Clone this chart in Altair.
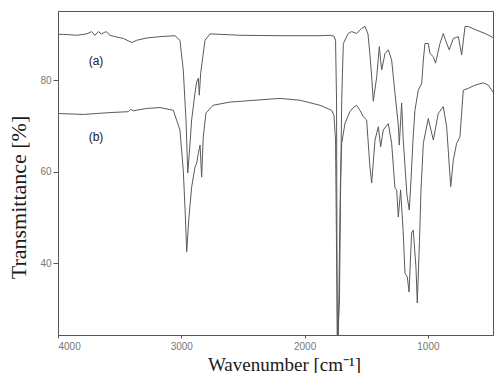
import altair as alt
import pandas as pd

# Spectrum (a): wavenumber [cm^-1] and transmittance [%]
wn_a = [4000, 3957, 3848, 3767, 3727, 3700, 3673, 3646, 3611, 3578, 3538, 3470, 3402, 3362,
        3281, 3173, 3051, 3011, 2984, 2962, 2951, 2948, 2935, 2916, 2889, 2875, 2862, 2854,
        2843, 2826, 2808, 2767, 2524, 2200, 1875, 1794, 1762, 1749, 1741, 1735, 1717, 1709,
        1699, 1686, 1646, 1618, 1578, 1537, 1510, 1486, 1470, 1456, 1443, 1415, 1394, 1375,
        1348, 1321, 1294, 1267, 1240, 1232, 1213, 1200, 1186, 1170, 1151, 1137, 1121, 1105,
        1078, 1050, 1037, 1024, 997, 983, 956, 938, 902, 875, 862, 827, 794, 753, 726, 699,
        672, 604, 537, 472]
t_a = [90.0, 90.0, 89.8, 90.1, 90.6, 89.8, 90.6, 90.1, 90.6, 89.8, 89.5, 89.1, 88.2, 88.7,
       89.2, 89.5, 89.7, 88.7, 82.2, 71.3, 62.5, 59.7, 64.0, 71.3, 77.2, 79.6, 80.4, 76.7,
       81.5, 85.0, 88.7, 90.1, 89.8, 89.7, 89.7, 89.8, 89.6, 88.7, 75.6, 22.1, 31.9, 53.8,
       75.6, 88.0, 90.2, 90.6, 90.2, 91.3, 91.7, 90.1, 85.5, 80.7, 75.4, 80.7, 87.3, 82.2,
       85.8, 86.6, 84.4, 77.1, 70.2, 65.8, 75.0, 66.9, 61.4, 54.9, 51.6, 58.1, 66.9, 73.4,
       77.8, 79.3, 84.4, 88.0, 88.0, 85.8, 85.1, 83.7, 88.0, 90.2, 89.1, 86.6, 89.1, 89.5,
       85.5, 91.7, 91.7, 90.9, 90.2, 89.3]

# Spectrum (b)
wn_b = [4000, 3795, 3578, 3430, 3410, 3389, 3281, 3173, 3065, 3011, 2984, 2968, 2956, 2940,
        2916, 2889, 2875, 2862, 2848, 2835, 2822, 2800, 2743, 2605, 2200, 2037, 1875, 1780,
        1762, 1749, 1741, 1733, 1727, 1717, 1709, 1699, 1672, 1632, 1608, 1578, 1551, 1524,
        1497, 1470, 1456, 1429, 1402, 1383, 1362, 1321, 1294, 1267, 1253, 1240, 1221, 1200,
        1186, 1167, 1153, 1132, 1119, 1097, 1086, 1068, 1056, 1037, 997, 956, 916, 875, 848,
        835, 815, 794, 767, 740, 713, 672, 618, 551, 510, 472]
t_b = [72.7, 72.5, 72.9, 73.1, 73.6, 73.3, 73.8, 74.0, 73.4, 69.1, 60.3, 50.9, 42.5, 49.4,
       56.6, 61.0, 61.9, 64.0, 65.8, 58.8, 67.5, 72.8, 74.5, 75.2, 76.0, 75.6, 74.5, 73.4,
       72.3, 66.9, 42.8, 22.1, 22.1, 42.8, 58.1, 66.2, 70.6, 73.1, 73.9, 74.5, 73.4, 72.0,
       71.3, 61.0, 57.5, 66.9, 69.8, 65.4, 69.1, 70.5, 66.2, 56.4, 56.0, 50.1, 56.0, 46.6,
       37.8, 37.0, 33.7, 46.6, 47.2, 39.2, 31.3, 45.0, 56.0, 66.2, 71.6, 66.9, 72.7, 74.2,
       69.8, 64.7, 56.7, 62.5, 66.2, 67.6, 77.8, 78.2, 78.9, 79.4, 78.9, 77.4]

labels = ["(a)", "(b)"]
x_ticks = [4000, 3000, 2000, 1000]
y_ticks = [40, 60, 80]

df = pd.concat([
    pd.DataFrame({"wn": wn_a, "T": t_a, "s": "a", "i": range(len(wn_a))}),
    pd.DataFrame({"wn": wn_b, "T": t_b, "s": "b", "i": range(len(wn_b))}),
])

x_scale = alt.Scale(domain=[4000, 472], nice=False, zero=False)
y_scale = alt.Scale(domain=[24.3, 95.1], nice=False, zero=False)

lines = alt.Chart(df).mark_line(clip=True, color="#5a5a5a", strokeWidth=1.0).encode(
    x=alt.X("wn:Q", scale=x_scale,
            axis=alt.Axis(values=x_ticks, format="d", title="Wavenumber [cm⁻¹]", grid=False,
                          labelFont="Liberation Sans", labelFontSize=10, labelColor="#777777",
                          labelPadding=3, tickSize=3, tickColor="#555555",
                          domainColor="#555555",
                          titleFont="Liberation Serif", titleFontSize=19, titleFontWeight="normal",
                          titleColor="#1a1a1a", titleX=226, titleY=29,
                          titleBaseline="middle", titleAlign="center")),
    y=alt.Y("T:Q", scale=y_scale,
            axis=alt.Axis(values=y_ticks, title="Transmittance [%]", grid=False,
                          labelFont="Liberation Sans", labelFontSize=10, labelColor="#777777",
                          labelPadding=2, tickSize=5, tickColor="#555555",
                          domainColor="#555555",
                          titleFont="Liberation Serif", titleFontSize=22, titleFontWeight="normal",
                          titleColor="#1a1a1a", titleX=-40, titleY=186, titleAngle=270,
                          titleBaseline="middle", titleAlign="center")),
    detail="s:N",
    order="i:Q",
)

lab_df = pd.DataFrame({"label": labels, "wn": [3692, 3692], "T": [84.2, 67.5]})
texts = alt.Chart(lab_df).mark_text(font="Liberation Sans", fontSize=12, color="#1a1a1a",
                                     fontWeight="normal").encode(
    x=alt.X("wn:Q", scale=x_scale), y=alt.Y("T:Q", scale=y_scale), text="label:N")

chart = (lines + texts).properties(
    width=435, height=324,
    autosize=alt.AutoSizeParams(type="none"),
    padding={"left": 58, "top": 11, "right": 2, "bottom": 38},
    background="white",
).configure_view(stroke="#555555", strokeWidth=1)

chart.save("out.html", embed_options={"renderer": "svg", "actions": False})
